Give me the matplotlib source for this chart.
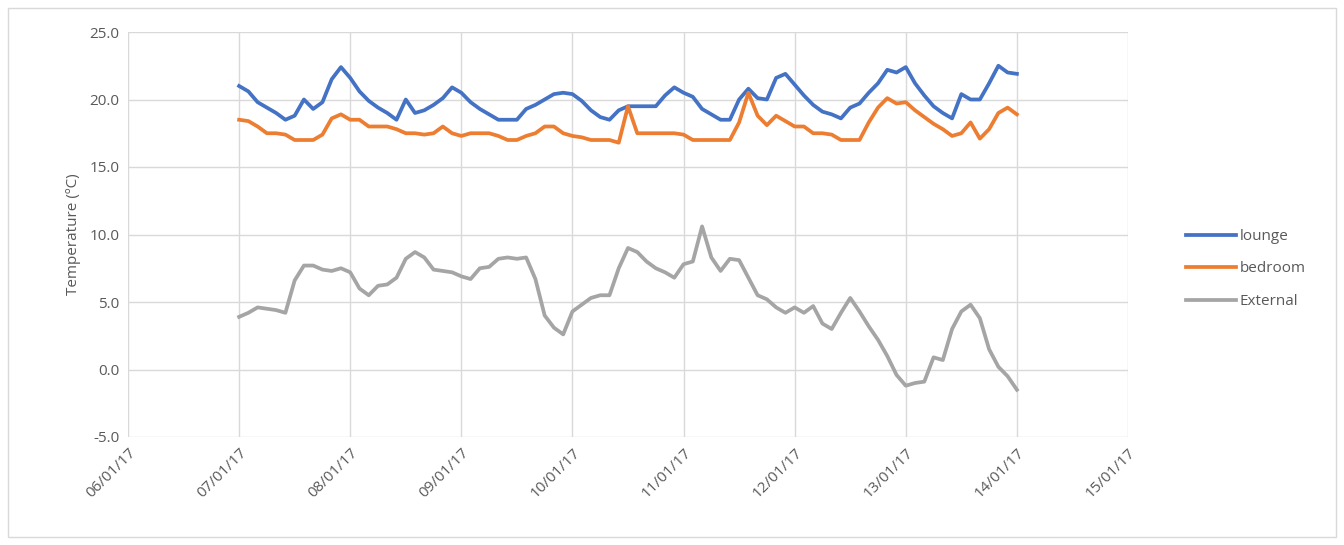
import numpy as np
import pandas as pd
import matplotlib
matplotlib.use("Agg")
import matplotlib.pyplot as plt
import matplotlib.dates as mdates
from matplotlib.patches import Rectangle

# readings every 2 hours from 07/01/17 00:00 to 14/01/17 00:00
times = pd.date_range("2017-01-07", periods=85, freq="2h")

lounge = [21.0, 20.6, 19.8, 19.4, 19.0, 18.5, 18.8, 20.0, 19.3, 19.8,
          21.5, 22.4, 21.6, 20.6, 19.9, 19.4, 19.0, 18.5, 20.0, 19.0,
          19.2, 19.6, 20.1, 20.9, 20.5, 19.8, 19.3, 18.9, 18.5, 18.5,
          18.5, 19.3, 19.6, 20.0, 20.4, 20.5, 20.4, 19.9, 19.2, 18.7,
          18.5, 19.2, 19.5, 19.5, 19.5, 19.5, 20.3, 20.9, 20.5, 20.2,
          19.3, 18.9, 18.5, 18.5, 20.0, 20.8, 20.1, 20.0, 21.6, 21.9,
          21.1, 20.3, 19.6, 19.1, 18.9, 18.6, 19.4, 19.7, 20.5, 21.2,
          22.2, 22.0, 22.4, 21.2, 20.3, 19.5, 19.0, 18.6, 20.4, 20.0,
          20.0, 21.2, 22.5, 22.0, 21.9]

bedroom = [18.5, 18.4, 18.0, 17.5, 17.5, 17.4, 17.0, 17.0, 17.0, 17.4,
           18.6, 18.9, 18.5, 18.5, 18.0, 18.0, 18.0, 17.8, 17.5, 17.5,
           17.4, 17.5, 18.0, 17.5, 17.3, 17.5, 17.5, 17.5, 17.3, 17.0,
           17.0, 17.3, 17.5, 18.0, 18.0, 17.5, 17.3, 17.2, 17.0, 17.0,
           17.0, 16.8, 19.5, 17.5, 17.5, 17.5, 17.5, 17.5, 17.4, 17.0,
           17.0, 17.0, 17.0, 17.0, 18.3, 20.5, 18.8, 18.1, 18.8, 18.4,
           18.0, 18.0, 17.5, 17.5, 17.4, 17.0, 17.0, 17.0, 18.3, 19.4,
           20.1, 19.7, 19.8, 19.2, 18.7, 18.2, 17.8, 17.3, 17.5, 18.3,
           17.1, 17.8, 19.0, 19.4, 18.9]

external = [3.9, 4.2, 4.6, 4.5, 4.4, 4.2, 6.6, 7.7, 7.7, 7.4,
            7.3, 7.5, 7.2, 6.0, 5.5, 6.2, 6.3, 6.8, 8.2, 8.7,
            8.3, 7.4, 7.3, 7.2, 6.9, 6.7, 7.5, 7.6, 8.2, 8.3,
            8.2, 8.3, 6.7, 4.0, 3.1, 2.6, 4.3, 4.8, 5.3, 5.5,
            5.5, 7.5, 9.0, 8.7, 8.0, 7.5, 7.2, 6.8, 7.8, 8.0,
            10.6, 8.3, 7.3, 8.2, 8.1, 6.8, 5.5, 5.2, 4.6, 4.2,
            4.6, 4.2, 4.7, 3.4, 3.0, 4.2, 5.3, 4.3, 3.2, 2.2,
            1.0, -0.4, -1.2, -1.0, -0.9, 0.9, 0.7, 3.0, 4.3, 4.8,
            3.8, 1.5, 0.2, -0.5, -1.5]

series_names = ["lounge", "bedroom", "External"]
series_colors = ["#4472C4", "#ED7D31", "#A5A5A5"]

plt.rcParams["font.family"] = ["Open Sans", "DejaVu Sans"]

fig = plt.figure(figsize=(13.44, 5.45), dpi=100)
ax = fig.add_axes([128 / 1344, 1 - 437 / 545, 1000 / 1344, 405 / 545])

for vals, name, col in zip([lounge, bedroom, external], series_names, series_colors):
    ax.plot(times, vals, color=col, lw=2.7, label=name, solid_joinstyle="round")

ax.set_xlim(pd.Timestamp("2017-01-06"), pd.Timestamp("2017-01-15"))
ax.set_ylim(-5, 25)
ax.set_yticks(np.arange(-5, 26, 5))
ax.yaxis.set_major_formatter(matplotlib.ticker.FormatStrFormatter("%.1f"))
ax.xaxis.set_major_locator(mdates.DayLocator())
ax.xaxis.set_major_formatter(mdates.DateFormatter("%d/%m/%y"))

ax.grid(True, color="#D9D9D9", lw=1)
ax.set_axisbelow(True)
for s in ax.spines.values():
    s.set_visible(False)
ax.tick_params(length=0, colors="#595959", labelsize=11, pad=6)
for lbl in ax.get_xticklabels():
    lbl.set_rotation(45)
    lbl.set_ha("right")
    lbl.set_va("top")
    lbl.set_rotation_mode("anchor")

ax.set_ylabel("Temperature (ºC)", color="#595959", fontsize=11, labelpad=6)

fig.legend(loc="center left", bbox_to_anchor=(1178 / 1344, 1 - 269 / 545),
           frameon=False, handlelength=3.3, handletextpad=0.25,
           labelspacing=1.15, borderpad=0, prop={"size": 11},
           labelcolor="#595959")

fig.patches.append(Rectangle((8 / 1344, 8 / 545), 1328 / 1344, 529 / 545,
                             transform=fig.transFigure, fill=False,
                             edgecolor="#D9D9D9", lw=1))

fig.savefig("out.png", dpi=100)
